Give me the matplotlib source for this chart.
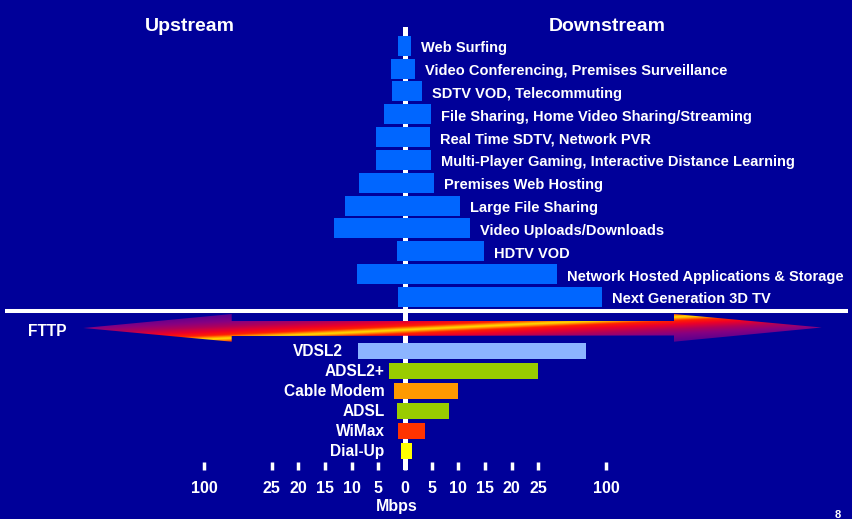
import numpy as np
import matplotlib.pyplot as plt
from matplotlib.colors import LinearSegmentedColormap
from matplotlib.patches import Polygon

plt.rcParams['font.family'] = ['Liberation Sans', 'DejaVu Sans']
plt.rcParams['font.weight'] = 'bold'

# applications (top to bottom), upstream / downstream bandwidth in Mbps
apps = ['Web Surfing', 'Video Conferencing, Premises Surveillance',
        'SDTV VOD, Telecommuting', 'File Sharing, Home Video Sharing/Streaming',
        'Real Time SDTV, Network PVR',
        'Multi-Player Gaming, Interactive Distance Learning',
        'Premises Web Hosting', 'Large File Sharing', 'Video Uploads/Downloads',
        'HDTV VOD', 'Network Hosted Applications & Storage', 'Next Generation 3D TV']
app_up = [1.3, 2.6, 2.4, 3.9, 5.4, 5.4, 8.6, 11.2, 13.3, 1.5, 9.0, 1.3]
app_down = [1.1, 1.9, 3.2, 4.9, 4.7, 4.9, 5.4, 10.3, 12.2, 14.8, 45.7, 95.5]

# access technologies
techs = ['VDSL2', 'ADSL2+', 'Cable Modem', 'ADSL', 'WiMax', 'Dial-Up']
tech_up = [8.8, 2.9, 2.1, 1.5, 1.3, 0.75]
tech_down = [77.8, 25, 9.9, 8.25, 3.75, 1.3]
tech_colors = ['#8CB4FF', '#99CC00', '#FF9900', '#99CC00', '#FF3300', '#FFFF00']

tick_vals = [-100, -25, -20, -15, -10, -5, 0, 5, 10, 15, 20, 25, 100]

BG = '#000099'
APP_BLUE = '#0066FF'

# axis is linear up to 25 Mbps, then compressed out to 100
K = 12.69 / 75


def fwd(v):
    v = np.asarray(v, dtype=float)
    a = np.abs(v)
    return np.sign(v) * np.where(a <= 25, a, 25 + (a - 25) * K)


def inv(u):
    u = np.asarray(u, dtype=float)
    a = np.abs(u)
    return np.sign(u) * np.where(a <= 25, a, 25 + (a - 25) / K)


fig = plt.figure(figsize=(8.52, 5.19), dpi=100)
fig.patch.set_facecolor(BG)

# upper panel: applications
ax_up = fig.add_axes([0.2394, 1 - 311 / 519, 0.4718, (311 - 26.7) / 519])
# lower panel: technologies
ax_lo = fig.add_axes([0.2394, 1 - 470.3 / 519, 0.4718, (470.3 - 311) / 519])

for ax in (ax_up, ax_lo):
    ax.set_xscale('function', functions=(fwd, inv))
    ax.set_xlim(-100, 100)
    ax.set_facecolor('none')
    for s in ax.spines.values():
        s.set_visible(False)
    ax.set_yticks([])
    ax.axvline(0, color='white', lw=3.6, zorder=1)

y_app = np.arange(len(apps))
ax_up.barh(y_app, np.array(app_up) + np.array(app_down), left=-np.array(app_up),
           height=0.875, color=APP_BLUE, zorder=2)
ax_up.set_ylim(11.61, -0.83)
ax_up.set_xticks([])
for i, name in enumerate(apps):
    ax_up.annotate(name, xy=(app_down[i], i), xytext=(7.2, -4.6),
                   textcoords='offset points', ha='left', va='baseline',
                   color='white', fontsize=10.5, fontweight='bold',
                   annotation_clip=False)

y_tech = np.arange(len(techs))
ax_lo.barh(y_tech, np.array(tech_up) + np.array(tech_down), left=-np.array(tech_up),
           height=0.8, color=tech_colors, zorder=2)
ax_lo.set_ylim(5.96, -1.98)
for i, name in enumerate(techs):
    if tech_up[i] > 3.8:
        xy, dx = -tech_up[i], -10.8
    else:
        xy, dx = -3.8, 0
    ax_lo.annotate(name, xy=(xy, i), xytext=(dx, -3.6),
                   textcoords='offset points', ha='right', va='baseline',
                   color='white', fontsize=11.2, fontweight='bold',
                   annotation_clip=False)

ax_lo.set_xticks(tick_vals)
ax_lo.set_xticklabels([str(abs(v)) for v in tick_vals])
ax_lo.tick_params(axis='x', direction='in', length=5.8, width=2.5, color='white',
                  labelcolor='white', labelsize=11.5, pad=7.5)
for lab in ax_lo.get_xticklabels():
    lab.set_fontweight('bold')

# decoration layer in pixel units (rule, FTTP arrow, headings)
deco = fig.add_axes([0, 0, 1, 1])
deco.patch.set_alpha(0)
deco.axis('off')

deco.plot([5, 848], [311, 311], color='white', lw=2.9, solid_capstyle='butt')

xs = np.arange(80, 826) + 0.5
ys = np.arange(308, 346, 0.5) + 0.25
X, Y = np.meshgrid(xs, ys)
dist = np.abs(Y - (338 - 0.0475 * (X - 232)))
fttp_cmap = LinearSegmentedColormap.from_list('fttp', [
    (0.0, '#FFE000'), (0.06, '#FF9900'), (0.15, '#FF2000'), (0.3, '#EE0028'),
    (0.5, '#B0005A'), (0.7, '#860082'), (1.0, '#5A0090')])
img = deco.imshow(np.clip(dist / 24, 0, 1), cmap=fttp_cmap, vmin=0, vmax=1,
                  extent=(80, 826, 346, 308), origin='upper', aspect='auto',
                  interpolation='bilinear')
arrow_pts = [(83.3, 328), (231.7, 314), (231.7, 321), (674, 321), (674, 314),
             (821.7, 327.5), (674, 341.7), (674, 335.5), (231.7, 336),
             (231.7, 341.7)]
arrow = Polygon(arrow_pts, closed=True, facecolor='none', edgecolor='none')
deco.add_patch(arrow)
img.set_clip_path(arrow)

deco.set_xlim(0, 852)
deco.set_ylim(519, 0)

deco.text(190, 31, 'Upstream', ha='center', va='baseline', color='white',
          fontsize=14, fontweight='bold')
deco.text(607, 31, 'Downstream', ha='center', va='baseline', color='white',
          fontsize=14, fontweight='bold')
deco.text(47, 336.5, 'FTTP', ha='center', va='baseline', color='white',
          fontsize=11.2, fontweight='bold')
deco.text(397, 511.5, 'Mbps', ha='center', va='baseline', color='white',
          fontsize=11.5, fontweight='bold')
deco.text(838, 518, '8', ha='center', va='baseline', color='white',
          fontsize=8, fontweight='bold')

fig.savefig('out.png', dpi=100, facecolor=BG)
